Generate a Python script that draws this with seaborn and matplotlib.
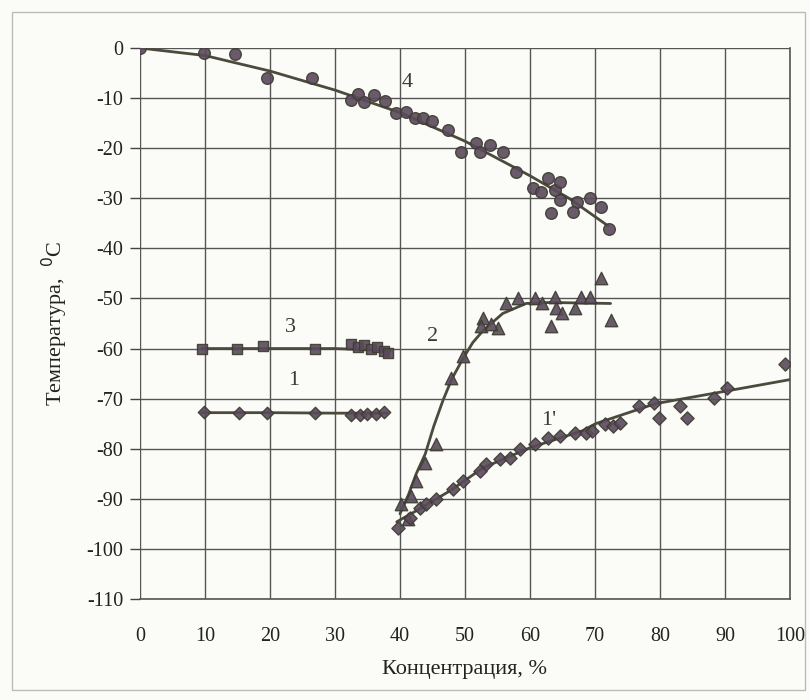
import numpy as np
import pandas as pd
import matplotlib
matplotlib.use("Agg")
import matplotlib.pyplot as plt
import seaborn as sns

# ---- data ----
# series 4 (circles)
s4_x = [0, 9.8, 14.6, 19.5, 26.5, 32.4, 33.6, 34.4, 36.0, 37.7, 39.4, 41.0, 42.3, 43.6, 45.0,
        47.4, 49.4, 51.7, 52.3, 53.8, 55.8, 57.8, 60.4, 61.7, 62.7, 63.8, 64.6, 64.6, 63.2,
        67.3, 69.2, 66.6, 70.9, 72.2]
s4_y = [0, -1.0, -1.2, -6.0, -6.0, -10.4, -9.2, -10.8, -9.4, -10.6, -13.0, -12.8, -14.0, -14.0, -14.6,
        -16.4, -20.8, -19.0, -20.8, -19.4, -20.8, -24.8, -28.0, -28.8, -26.0, -28.4, -26.8, -30.4, -33.0,
        -30.8, -30.0, -32.8, -31.8, -36.2]
c4_x = [0, 10, 20, 30, 40, 50, 60, 66, 72]
c4_y = [0, -1.5, -4.6, -8.4, -12.9, -18.6, -25.5, -30.0, -35.5]

# series 3 (squares)
s3_x = [9.5, 14.9, 19.0, 27.0, 32.5, 33.5, 34.5, 35.5, 36.5, 37.5, 38.2]
s3_y = [-60.0, -60.0, -59.4, -60.0, -59.0, -59.6, -59.2, -60.0, -59.6, -60.4, -60.8]
c3_x = [9.5, 20, 30, 38.5]
c3_y = [-60.0, -60.0, -60.0, -60.4]

# series 1 (diamonds)
s1_x = [9.8, 15.2, 19.5, 27.0, 32.5, 33.8, 35.0, 36.3, 37.6]
s1_y = [-72.6, -72.8, -72.8, -72.8, -73.2, -73.2, -73.0, -73.0, -72.6]
c1_x = [9.5, 20, 30, 38]
c1_y = [-72.8, -72.8, -72.9, -72.9]

# series 2 (triangles)
s2_x = [40.2, 41.3, 41.7, 42.5, 43.9, 45.6, 47.9, 49.7, 52.8, 52.5, 55.1, 56.3, 58.1, 60.7,
        61.9, 63.8, 64.0, 65.0, 63.2, 66.9, 67.8, 69.3, 70.9, 72.4, 54.0]
s2_y = [-91.0, -94.0, -89.4, -86.4, -82.8, -79.0, -65.8, -61.4, -54.0, -55.4, -55.8, -51.0, -50.0, -50.0,
        -51.0, -49.8, -52.0, -53.0, -55.4, -52.0, -49.8, -49.8, -46.0, -54.4, -55.0]
c2_x = [40.0, 41.3, 42.5, 43.9, 45.2, 46.6, 48.0, 49.7, 51.2, 52.8, 55.8, 59.4, 63.0, 72.4]
c2_y = [-93.0, -89.2, -85.0, -81.0, -75.5, -70.4, -66.0, -62.0, -58.8, -56.4, -53.0, -51.0, -50.8, -51.0]

# series 1' (diamonds)
s1p_x = [39.7, 41.5, 43.1, 44.0, 45.6, 48.2, 49.7, 52.3, 53.2, 55.4, 56.9, 58.4, 60.7, 62.7, 64.6,
         66.9, 68.6, 69.6, 71.5, 72.7, 73.8, 76.8, 79.1, 79.9, 83.1, 84.2, 88.3, 90.3, 99.2]
s1p_y = [-95.8, -93.8, -91.8, -91.0, -90.0, -88.0, -86.4, -84.4, -83.0, -82.0, -81.8, -80.0, -79.0, -77.8, -77.4,
         -76.8, -76.8, -76.4, -75.0, -75.4, -74.8, -71.4, -70.8, -73.8, -71.4, -73.8, -69.8, -67.8, -63.0]
c1p_x = [39.5, 42.5, 47.7, 52.8, 60.0, 68.1, 70.1, 79.3, 88.0, 100.0]
c1p_y = [-94.6, -92.4, -88.4, -83.8, -79.8, -76.4, -75.0, -71.0, -69.0, -66.2]

labels = ["4", "3", "1", "2", "1'"]
label_x = [41.1, 23.2, 23.6, 45.0, 62.9]
label_y = [-6.8, -55.8, -66.4, -57.6, -74.4]

x_ticks = list(range(0, 101, 10))
y_ticks = list(range(-110, 1, 10))

# ---- plotting ----
sns.set_theme(style="white")
plt.rcParams['font.family'] = ['Liberation Serif', 'DejaVu Serif']
plt.rcParams['axes.unicode_minus'] = False

fig = plt.figure(figsize=(8.1, 7.0), dpi=100, facecolor='#fbfbf7')
ax = fig.add_axes([0.1728, 0.1443, 0.8025, 0.7871])
ax.set_facecolor('#fbfbf7')

line_col = '#4b4a3c'
mk_face = '#5a4a5c'
mk_edge = '#3c3c30'

curves = [(c4_x, c4_y), (c3_x, c3_y), (c1_x, c1_y), (c2_x, c2_y), (c1p_x, c1p_y)]
for cx, cy in curves:
    sns.lineplot(x=cx, y=cy, ax=ax, color=line_col, linewidth=2.0, sort=False,
                 estimator=None, zorder=3)

pts = [(s4_x, s4_y, 'o', 70), (s3_x, s3_y, 's', 55), (s1_x, s1_y, 'D', 40),
       (s2_x, s2_y, '^', 80), (s1p_x, s1p_y, 'D', 45)]
for sx, sy, m, sz in pts:
    sns.scatterplot(x=sx, y=sy, ax=ax, marker=m, s=sz, color=mk_face,
                    edgecolor=mk_edge, linewidth=1.0, alpha=0.9, zorder=4)

for t, lx, ly in zip(labels, label_x, label_y):
    ax.text(lx, ly, t, fontsize=16, color='#3a3a3a', ha='center', va='center')

ax.set_xlim(0, 100)
ax.set_ylim(-110, 0)
ax.set_xticks(x_ticks)
ax.set_yticks(y_ticks)
ax.grid(True, color='#555555', linewidth=1.0)
ax.set_axisbelow(True)
for side in ['top', 'left']:
    ax.spines[side].set_visible(False)
for side in ['right', 'bottom']:
    ax.spines[side].set_color('#555555')
    ax.spines[side].set_linewidth(1.2)

ax.tick_params(axis='y', left=True, length=7, width=1, color='#444444', labelsize=14.5,
               labelcolor='#222222', pad=5)
ax.tick_params(axis='x', bottom=False, labelsize=14.5, labelcolor='#222222', pad=14)

ax.set_xlabel('Концентрация, %', fontsize=16, color='#222222', labelpad=10)
ax.set_ylabel('Температура,  $^0$C', fontsize=16, color='#222222', labelpad=12)

# outer frame of the figure
fig.patches.append(plt.Rectangle((0.015, 0.015), 0.979, 0.968, transform=fig.transFigure,
                                 fill=False, edgecolor='#bbbbbb', linewidth=1.0))

fig.savefig('out.png', dpi=100, facecolor=fig.get_facecolor())
